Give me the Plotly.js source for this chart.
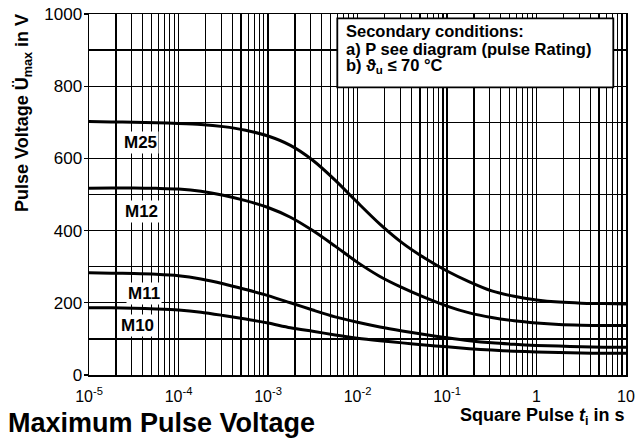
<!DOCTYPE html>
<html>
<head>
<meta charset="utf-8">
<script src="https://cdn.plot.ly/plotly-3.0.1.min.js"></script>
<style>html,body{margin:0;padding:0;background:#fff;}#chart{width:636px;height:440px;}</style>
</head>
<body>
<div id="chart"></div>
<script>
// ---- data (quarter-decade steps) ----
const pulseTime = [1e-5, 1.78e-5, 3.16e-5, 5.62e-5, 1e-4, 1.78e-4, 3.16e-4, 5.62e-4, 1e-3, 1.78e-3, 3.16e-3, 5.62e-3,
                   1e-2, 1.78e-2, 3.16e-2, 5.62e-2, 0.1, 0.178, 0.316, 0.562, 1, 1.78, 3.16, 5.62, 10];
const m25 = [702, 701, 700, 699, 697, 694, 688, 678, 662, 636, 595, 540, 478, 418, 366, 324, 288, 258, 233, 218, 208, 202, 199, 198, 197];
const m12 = [517, 518, 518, 517, 515, 509, 498, 483, 464, 437, 400, 357, 312, 273, 242, 215, 191, 172, 159, 150, 144, 140, 138, 137, 137];
const m11 = [283, 282, 281, 279, 275, 266, 253, 237, 220, 200, 180, 161, 146, 133, 122, 112, 103, 95, 89, 85, 82, 80, 78, 77, 77];
const m10 = [186, 186, 185, 183, 180, 174, 165, 155, 144, 131, 121, 111, 102, 95, 89, 83, 78, 73, 69, 66, 64, 62, 61, 60, 60];
const seriesNames = ['M25', 'M12', 'M11', 'M10'];

const xTickVals = [1e-5, 1e-4, 1e-3, 1e-2, 1e-1, 1, 10];
const xTickText = ['10<sup>-5</sup>', '10<sup>-4</sup>', '10<sup>-3</sup>', '10<sup>-2</sup>', '10<sup>-1</sup>', '1', '10'];
const yTickVals = [0, 200, 400, 600, 800, 1000];
const yTickText = ['0', '200', '400', '600', '800', '1000'];

const titleText = 'Maximum Pulse Voltage';
const xTitleText = 'Square Pulse <i>t</i><sub>i</sub> in s';
const yTitleText = 'Pulse Voltage Ü<sub>max</sub> in V';
const noteLines = ['Secondary conditions:', 'a) P see diagram (pulse Rating)', 'b) ϑ<sub>u</sub> ≤ 70 °C'];

// ---- layout helpers ----
const W = 636, H = 440;
const M = {l: 89, r: 10, t: 14, b: 65};
const PW = W - M.l - M.r, PH = H - M.t - M.b;
const px = x => (x - M.l) / PW;          // pixel -> paper x
const py = y => (H - M.b - y) / PH;      // pixel -> paper y

const xMinor = [];
for (let d = -5; d <= 0; d++) for (let k = 2; k <= 9; k++) xMinor.push(k * Math.pow(10, d));
const yMinor = [];
for (let v = 100; v < 1000; v += 200) yMinor.push(v);

const FONT = 'Liberation Sans, Arial, Helvetica, sans-serif';
const allSeries = [m25, m12, m11, m10];
const traces = allSeries.map((ys, i) => ({
  x: pulseTime, y: ys, type: 'scatter', mode: 'lines', name: seriesNames[i],
  line: {color: '#000', width: 3, shape: 'spline', smoothing: 0.8}, hoverinfo: 'skip'
}));

// label positions (log10 x, y value)
const labelPos = [[-4.43, 643], [-4.41, 452], [-4.39, 227], [-4.46, 136]];
const annotations = seriesNames.map((n, i) => ({
  xref: 'x', yref: 'y', x: labelPos[i][0], y: labelPos[i][1], text: '<b>' + n + '</b>',
  showarrow: false, bgcolor: '#fff', borderpad: 1, font: {family: FONT, size: 17, color: '#000'}
}));
const noteBase = [36.7, 55, 71.7];
noteLines.forEach((t, i) => annotations.push({
  xref: 'paper', yref: 'paper', x: px(344), y: py(noteBase[i] - 5.5), xanchor: 'left', yanchor: 'middle',
  text: '<b>' + t + '</b>', showarrow: false, font: {family: FONT, size: 16.5, color: '#000'}
}));
annotations.push({
  xref: 'paper', yref: 'paper', x: px(627), y: py(416), xanchor: 'right', yanchor: 'middle',
  text: '<b>' + xTitleText + '</b>', showarrow: false, font: {family: FONT, size: 18, color: '#000'}
});
annotations.push({
  xref: 'paper', yref: 'paper', x: px(23), y: py(113), xanchor: 'center', yanchor: 'middle', textangle: -90,
  text: '<b>' + yTitleText + '</b>', showarrow: false, font: {family: FONT, size: 18, color: '#000'}
});

const layout = {
  width: W, height: H, margin: M, showlegend: false,
  paper_bgcolor: '#fff', plot_bgcolor: '#fff',
  font: {family: FONT, size: 16, color: '#000'},
  title: {text: '<b>' + titleText + '</b>', xref: 'container', yref: 'container', x: 8 / W, xanchor: 'left',
          y: 1 - 423 / H, yanchor: 'middle', font: {family: FONT, size: 27, color: '#000'}},
  xaxis: {type: 'log', range: [-5, 1], tickmode: 'array', tickvals: xTickVals, ticktext: xTickText,
          showgrid: true, gridcolor: '#000', gridwidth: 1.3, ticks: '', ticklabelstandoff: 6,
          showline: true, linecolor: '#000', linewidth: 1.5,
          mirror: true, zeroline: false, tickfont: {family: FONT, size: 16, color: '#000'},
          minor: {tickmode: 'array', tickvals: xMinor, showgrid: true, gridcolor: '#000', gridwidth: 1.2, ticks: ''}},
  yaxis: {range: [0, 1000], tickmode: 'array', tickvals: yTickVals, ticktext: yTickText,
          showgrid: true, gridcolor: '#000', gridwidth: 1.4, ticks: 'outside', ticklen: 4, tickwidth: 1.4, tickcolor: '#000',
          ticklabelstandoff: -2,
          showline: true, linecolor: '#000', linewidth: 1.5, mirror: true, zeroline: false,
          tickfont: {family: FONT, size: 17, color: '#000'},
          minor: {tickmode: 'array', tickvals: yMinor, showgrid: true, gridcolor: '#000', gridwidth: 1.4, ticks: ''}},
  shapes: [{type: 'rect', xref: 'paper', yref: 'paper', x0: px(337.3), x1: px(613.3), y0: py(87.3), y1: py(18.3),
            fillcolor: '#fff', line: {color: '#000', width: 1.8}, layer: 'above'}],
  annotations: annotations
};

Plotly.newPlot('chart', traces, layout, {staticPlot: true, displayModeBar: false});
</script>
</body>
</html>
